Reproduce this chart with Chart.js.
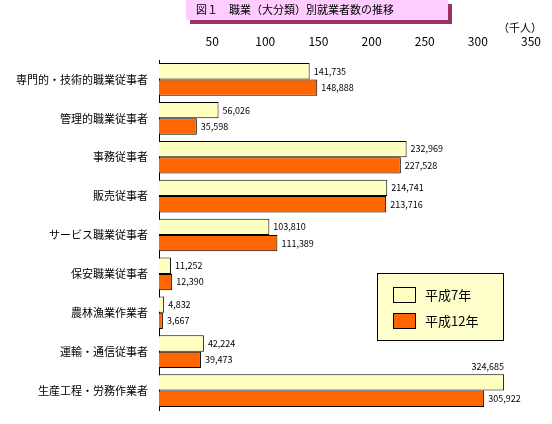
<!DOCTYPE html>
<html>
<head>
<meta charset="utf-8">
<script src="https://cdn.jsdelivr.net/npm/chart.js@4"></script>
<style>
  body { margin: 0; background: #fff; font-family: "Noto Sans CJK JP", sans-serif; }
  #wrap { position: relative; width: 552px; height: 424px; }
  #title {
    position: absolute; left: 186px; top: 0; width: 262px; height: 20px;
    background: #ffccff; box-shadow: 4px 4px 0 #993366;
    font-size: 11px; line-height: 18px; padding-left: 10px; box-sizing: border-box;
  }
</style>
</head>
<body>
<div id="wrap">
  <div id="title">図１　職業（大分類）別就業者数の推移</div>
  <canvas id="chart" width="552" height="424"></canvas>
</div>
<script>
const categories = ["専門的・技術的職業従事者", "管理的職業従事者", "事務従事者", "販売従事者",
  "サービス職業従事者", "保安職業従事者", "農林漁業作業者", "運輸・通信従事者", "生産工程・労務作業者"];
const h7 = [141735, 56026, 232969, 214741, 103810, 11252, 4832, 42224, 324685];
const h12 = [148888, 35598, 227528, 213716, 111389, 12390, 3667, 39473, 305922];
const seriesNames = ["平成7年", "平成12年"];
const seriesColors = ["#ffffc0", "#ff6600"];

const extras = {
  id: "extras",
  afterDatasetsDraw(chart) {
    const ctx = chart.ctx;
    const area = chart.chartArea;
    ctx.save();
    ctx.font = "9px 'Noto Sans CJK JP', sans-serif";
    ctx.fillStyle = "#000";
    chart.data.datasets.forEach((ds, di) => {
      chart.getDatasetMeta(di).data.forEach((bar, i) => {
        const txt = ds.data[i].toLocaleString("en-US");
        const w = ctx.measureText(txt).width;
        if (bar.x + 4 + w > area.right) {
          ctx.textAlign = "right"; ctx.textBaseline = "bottom";
          ctx.fillText(txt, bar.x, bar.y - bar.height / 2 - 3);
        } else {
          ctx.textAlign = "left"; ctx.textBaseline = "middle";
          ctx.fillText(txt, bar.x + 4, bar.y);
        }
      });
    });
    // unit
    ctx.font = "11px 'Noto Sans CJK JP', sans-serif";
    ctx.textAlign = "left"; ctx.textBaseline = "middle";
    ctx.fillText("（千人）", 498, 28);
    // legend
    ctx.fillStyle = "#ffffcc";
    ctx.fillRect(377, 273, 126, 67);
    ctx.strokeStyle = "#000"; ctx.lineWidth = 1;
    ctx.strokeRect(377.5, 273.5, 126, 67);
    ctx.font = "13px 'Noto Sans CJK JP', sans-serif";
    seriesNames.forEach((n, k) => {
      const y = 287 + k * 26;
      ctx.fillStyle = seriesColors[k];
      ctx.fillRect(393, y, 22, 15);
      ctx.strokeRect(393.5, y + 0.5, 22, 15);
      ctx.fillStyle = "#000";
      ctx.fillText(n, 425, y + 8);
    });
    ctx.restore();
  }
};

new Chart(document.getElementById("chart"), {
  type: "bar",
  data: {
    labels: categories,
    datasets: [
      { label: seriesNames[0], data: h7, backgroundColor: seriesColors[0], borderColor: "#000", borderWidth: 1 },
      { label: seriesNames[1], data: h12, backgroundColor: seriesColors[1], borderColor: "#000", borderWidth: 1 }
    ]
  },
  options: {
    indexAxis: "y",
    responsive: false,
    animation: false,
    layout: { padding: { left: 0, right: 21, top: 27, bottom: 14 } },
    categoryPercentage: 0.84,
    barPercentage: 1,
    plugins: { legend: { display: false }, tooltip: { enabled: false } },
    scales: {
      x: {
        position: "top", min: 0, max: 350000,
        ticks: {
          stepSize: 50000, color: "#000",
          font: { size: 12, family: "'Noto Sans CJK JP', sans-serif" },
          callback: v => v === 0 ? "" : String(v / 1000)
        },
        grid: { display: false }, border: { display: false },
        afterFit: s => { s.height = 33; }
      },
      y: {
        ticks: { color: "#000", font: { size: 11, family: "'Noto Sans CJK JP', sans-serif" } },
        grid: { display: false },
        border: { display: true, color: "#000" },
        afterFit: s => { s.width = 159; }
      }
    }
  },
  plugins: [extras]
});
</script>
</body>
</html>
